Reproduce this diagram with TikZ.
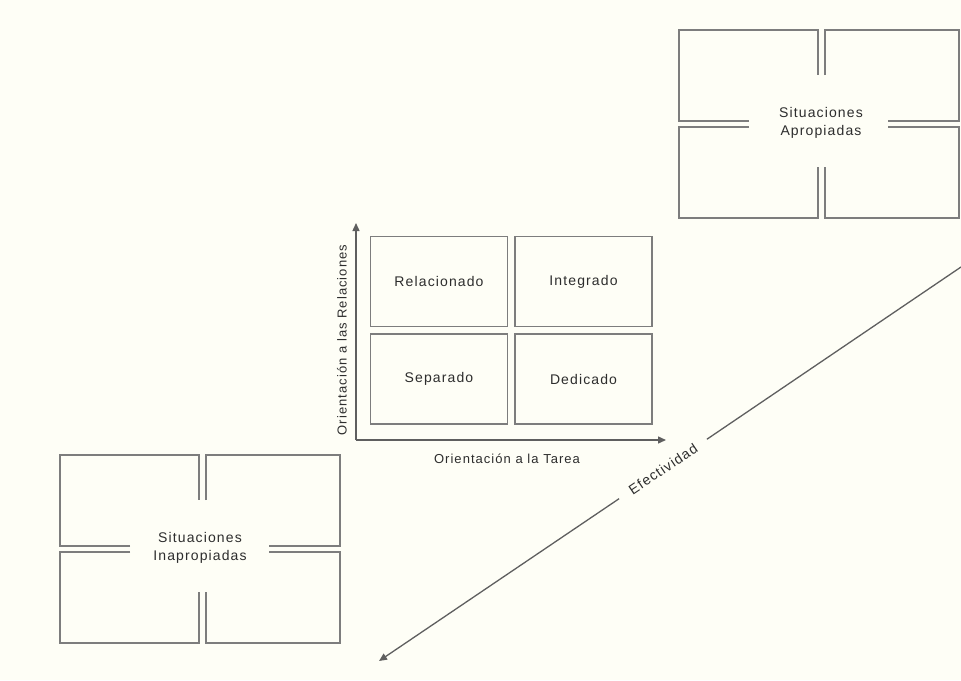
\documentclass[tikz,border=0pt]{standalone}
\usepackage{fontspec}
\setmainfont{Liberation Sans}[LetterSpace=8]
\usetikzlibrary{arrows.meta}
\definecolor{bgcream}{RGB}{254,254,246}
\definecolor{linegray}{RGB}{125,125,125}
\definecolor{axisgray}{RGB}{95,95,95}
\definecolor{txtgray}{RGB}{45,45,45}
\newcommand{\quadframe}[1]{%
  \begin{scope}[shift={#1}]
    \draw[framestroke] (70,91) -- (0,91) -- (0,0) -- (139,0) -- (139,45);
    \draw[framestroke] (146,45) -- (146,0) -- (280,0) -- (280,91) -- (209,91);
    \draw[framestroke] (70,97) -- (0,97) -- (0,188) -- (139,188) -- (139,137);
    \draw[framestroke] (146,137) -- (146,188) -- (280,188) -- (280,97) -- (209,97);
  \end{scope}}
\begin{document}
\begin{tikzpicture}[x=1pt,y=-1pt,
  framestroke/.style={draw=linegray,line width=1.8pt,line join=miter},
  cell/.style={draw=linegray,line width=1.8pt,minimum width=137pt,minimum height=90pt,inner sep=0pt,
    font=\fontsize{14}{16}\selectfont,text=txtgray},
  axislabel/.style={font=\fontsize{13}{15}\selectfont,text=txtgray,inner sep=1pt},
  grouplabel/.style={font=\fontsize{14}{18}\selectfont,text=txtgray,align=center,inner sep=0pt},
  axisline/.style={draw=axisgray,line width=1.4pt,-{Triangle[length=8pt,width=7pt]}}]
  \fill[bgcream] (0,0) rectangle (961,680);
  \useasboundingbox (0,0) rectangle (961,680);

  % top-right group
  \quadframe{(679,30)}
  \node[grouplabel] (apro) at (821,123) {Situaciones\\Apropiadas};

  % bottom-left group
  \quadframe{(60,455)}
  \node[grouplabel] (inap) at (200,548) {Situaciones\\Inapropiadas};

  % matrix
  \node[cell] (rel) at (439,281.5) {Relacionado};
  \node[cell] (int) at (583.5,281.5) {Integrado};
  \node[cell] (sep) at (439,379) {Separado};
  \node[cell] (ded) at (583.5,379) {Dedicado};

  % axes
  \coordinate (org) at (356,440);
  \coordinate (ytop) at (356,223);
  \coordinate (xend) at (666,440);
  \draw[axisline] (org) -- (ytop);
  \draw[axisline] (org) -- (xend);
  \node[axislabel] (tarea) at (507,459) {Orientación a la Tarea};
  \node[axislabel,rotate=90] (relac) at (342,340) {Orientación a las Relaciones};

  % effectiveness
  \coordinate (effTop) at (961,267);
  \coordinate (effEnd) at (379,661);
  \node[axislabel,rotate=34,inner xsep=13pt,inner ysep=0pt,font=\fontsize{14}{16}\selectfont] (eff) at (663,469) {Efectividad};
  \draw[draw=axisgray,line width=1.3pt] (effTop) -- (eff);
  \draw[draw=axisgray,line width=1.3pt,-{Triangle[length=8pt,width=7pt]}] (eff) -- (effEnd);
\end{tikzpicture}
\end{document}
